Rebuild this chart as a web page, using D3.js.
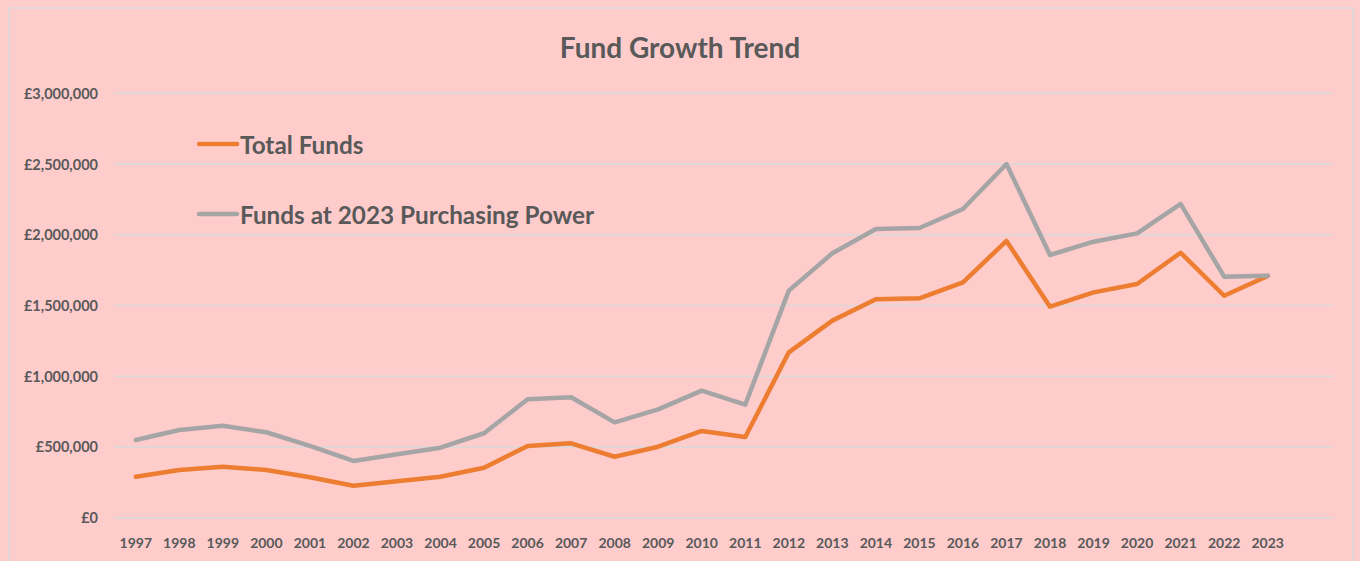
<!DOCTYPE html>
<html>
<head>
<meta charset="utf-8">
<script src="https://cdn.jsdelivr.net/npm/d3@7"></script>
<style>
  html, body { margin: 0; padding: 0; background: #ffcccc; }
  svg { display: block; font-family: Lato, 'Open Sans', sans-serif; }
</style>
</head>
<body>
<div id="chart"></div>
<script>
// Years along the category axis (the last slot is left empty, as in the original)
let years = ['1997', '1998', '1999', '2000', '2001', '2002', '2003', '2004', '2005',
  '2006', '2007', '2008', '2009', '2010', '2011', '2012', '2013', '2014', '2015',
  '2016', '2017', '2018', '2019', '2020', '2021', '2022', '2023'];

let totalFunds = [290000, 337000, 360000, 337000, 286000, 226000, 257000, 290000, 353000,
  507000, 526000, 431000, 502000, 613000, 570000, 1169000, 1393000, 1544000, 1551000,
  1664000, 1956000, 1492000, 1593000, 1652000, 1873000, 1569000, 1709000];

let fundsReal = [549000, 620000, 650000, 604000, 507000, 401000, 448000, 495000, 597000,
  837000, 851000, 674000, 766000, 898000, 799000, 1605000, 1869000, 2041000, 2048000,
  2182000, 2500000, 1857000, 1951000, 2010000, 2218000, 1704000, 1711000];

let yTicks = [0, 500000, 1000000, 1500000, 2000000, 2500000, 3000000];

let seriesNames = ['Total Funds', 'Funds at 2023 Purchasing Power'];

let width = 1360;
let height = 561;
let colours = ['#ed7d31', '#a5a5a5'];
let textColour = '#595959';
let gridColour = '#d9d9d9';

let svg = d3.select('#chart')
.append('svg')
.attr('width', width)
.attr('height', height);

// chart background and outer border
svg.append('rect')
.attr('width', width)
.attr('height', height)
.attr('fill', '#ffcccc');

svg.append('rect')
.attr('x', 9)
.attr('y', 8)
.attr('width', 1344)
.attr('height', 600)
.attr('fill', 'none')
.attr('stroke', gridColour)
.attr('stroke-width', 1.5);

// plot area
let plot = {left: 114, right: 1333, top: 93.3, bottom: 517.7};

let x = d3.scaleBand()
.domain(years.concat(['']))
.range([plot.left, plot.right]);

let y = d3.scaleLinear()
.domain([0, 3000000])
.range([plot.bottom, plot.top]);

let fmt = d3.format(',');

// horizontal gridlines
svg.append('g')
.selectAll('line')
.data(yTicks)
.join('line')
.attr('x1', plot.left)
.attr('x2', plot.right)
.attr('y1', d => y(d))
.attr('y2', d => y(d))
.attr('stroke', gridColour)
.attr('stroke-width', 1.5);

// y axis labels
svg.append('g')
.selectAll('text')
.data(yTicks)
.join('text')
.attr('x', 98)
.attr('y', d => y(d))
.attr('text-anchor', 'end')
.attr('dominant-baseline', 'central')
.attr('font-size', 14.5)
.attr('font-weight', 'bold')
.attr('fill', textColour)
.text(d => '£' + fmt(d));

// x axis labels
svg.append('g')
.selectAll('text')
.data(years)
.join('text')
.attr('x', d => x(d) + x.bandwidth() / 2)
.attr('y', 542)
.attr('text-anchor', 'middle')
.attr('dominant-baseline', 'central')
.attr('font-size', 14)
.attr('font-weight', 'bold')
.attr('fill', textColour)
.text(d => d);

// the two series
let line = d3.line()
.x((d, i) => x(years[i]) + x.bandwidth() / 2)
.y(d => y(d));

[totalFunds, fundsReal].forEach(function(values, i) {
  svg.append('path')
  .datum(values)
  .attr('d', line)
  .attr('fill', 'none')
  .attr('stroke', colours[i])
  .attr('stroke-width', 4.5)
  .attr('stroke-linejoin', 'round')
  .attr('stroke-linecap', 'round');
});

// title
svg.append('text')
.attr('x', 680)
.attr('y', 47)
.attr('text-anchor', 'middle')
.attr('dominant-baseline', 'central')
.attr('font-size', 28)
.attr('font-weight', 'bold')
.attr('fill', textColour)
.text('Fund Growth Trend');

// legend, top left inside the plot
let legendY = [144, 214];
seriesNames.forEach(function(name, i) {
  svg.append('line')
  .attr('x1', 199)
  .attr('x2', 237)
  .attr('y1', legendY[i])
  .attr('y2', legendY[i])
  .attr('stroke', colours[i])
  .attr('stroke-width', 4.5)
  .attr('stroke-linecap', 'round');

  svg.append('text')
  .attr('x', 240)
  .attr('y', legendY[i])
  .attr('dominant-baseline', 'central')
  .attr('font-size', 24.3)
  .attr('font-weight', 'bold')
  .attr('fill', textColour)
  .text(name);
});
</script>
</body>
</html>
